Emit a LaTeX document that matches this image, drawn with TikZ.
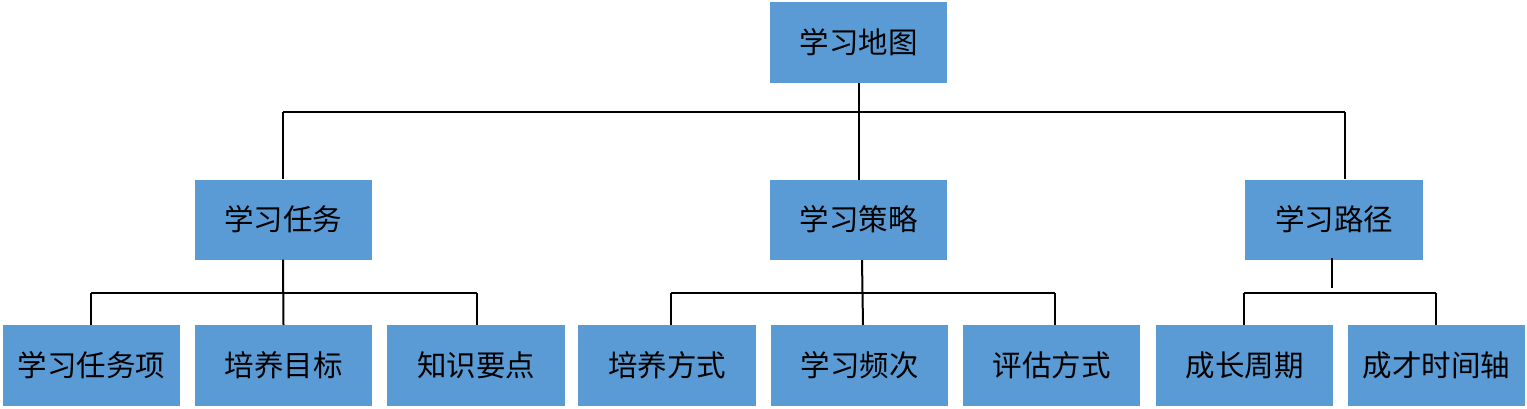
\documentclass[tikz,border=0pt]{standalone}
\usepackage{fontspec}
\setmainfont{Noto Sans CJK SC}
\definecolor{boxblue}{HTML}{5B9BD5}
\begin{document}
\begin{tikzpicture}[x=1pt,y=-1pt,
  box/.style={fill=boxblue,draw=none,inner sep=0pt,minimum width=177pt,minimum height=80pt,font=\fontsize{29.5}{34}\selectfont,text=black},
  conn/.style={draw=black,line width=2pt}]
\useasboundingbox (0,0) rectangle (1527,408);
% nodes
\node[box,minimum height=81pt] (top) at (858.5,42.5) {学习地图};
\node[box] (task) at (283,219.5) {学习任务};
\node[box] (strat) at (858.5,219.5) {学习策略};
\node[box,minimum width=178pt] (path) at (1334,219.5) {学习路径};
\node[box,minimum height=81pt] (t1) at (91.5,365.5) {学习任务项};
\node[box,minimum height=81pt] (t2) at (283.5,365.5) {培养目标};
\node[box,minimum height=81pt,minimum width=178pt] (t3) at (476,365.5) {知识要点};
\node[box,minimum height=81pt,minimum width=178pt] (s1) at (667,365.5) {培养方式};
\node[box,minimum height=81pt] (s2) at (859.5,365.5) {学习频次};
\node[box,minimum height=81pt] (s3) at (1051.5,365.5) {评估方式};
\node[box,minimum height=81pt] (p1) at (1244.5,365.5) {成长周期};
\node[box,minimum height=81pt] (p2) at (1436.5,365.5) {成才时间轴};
% bus coordinates
\coordinate (busL) at (283,112);
\coordinate (busR) at (1345,112);
\coordinate (busRend) at (1345,179);
\coordinate (tbL) at (91,293);
\coordinate (tbR) at (477,293);
\coordinate (sbL) at (671,293);
\coordinate (sbR) at (1055,293);
\coordinate (sbLend) at (671,325);
\coordinate (sbRend) at (1055,325);
\coordinate (stratOut) at (862,260);
\coordinate (stratIn) at (863,325);
\coordinate (pbL) at (1244,293);
\coordinate (pbR) at (1436,293);
\coordinate (pathOut) at (1332,258);
\coordinate (pathEnd) at (1332,288);
% level 1 connectors
\draw[conn] (top.south) -- ([yshift=-1pt]top.south |- strat.north);
\draw[conn] (busL) -- (busR);
\draw[conn] (busL) -- (task.north);
\draw[conn] (busR) -- (busRend);
% task group
\draw[conn] (task.south) -- (t2.north);
\draw[conn] (tbL) -- (tbR);
\draw[conn] (tbL) -- (tbL |- t1.north);
\draw[conn] (tbR) -- (tbR |- t3.north);
% strategy group
\draw[conn] (stratOut) -- (stratIn);
\draw[conn] (sbL) -- (sbR);
\draw[conn] (sbL) -- (sbLend);
\draw[conn] (sbR) -- (sbRend);
% path group
\draw[conn] (pathOut) -- (pathEnd);
\draw[conn] (pbL) -- (pbR);
\draw[conn] (pbL) -- (pbL |- p1.north);
\draw[conn] (pbR) -- (pbR |- p2.north);
\end{tikzpicture}
\end{document}
